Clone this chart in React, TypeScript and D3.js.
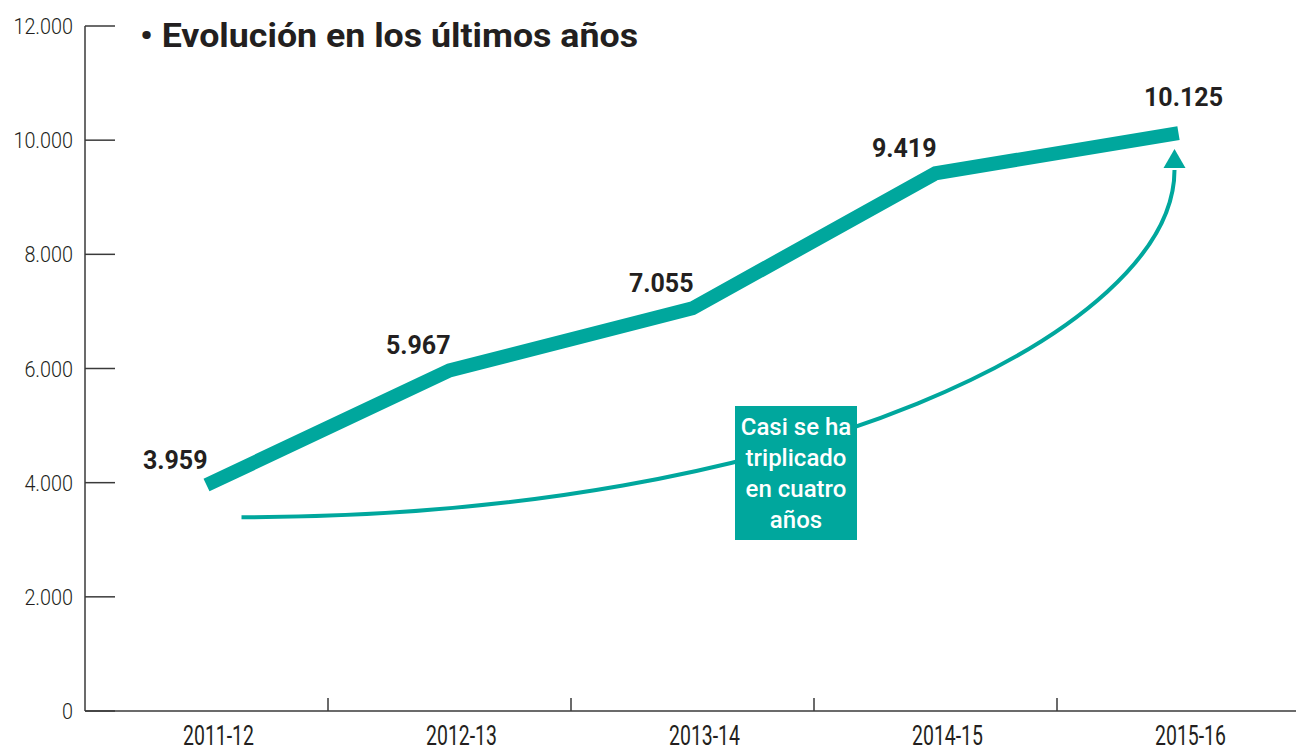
import React from 'react';
import * as d3 from 'd3';

// Evolución en los últimos años
const years = ['2011-12', '2012-13', '2013-14', '2014-15', '2015-16'];
const values = [3959, 5967, 7055, 9419, 10125];
const yTicks = [0, 2000, 4000, 6000, 8000, 10000, 12000];
const valueLabels = ['3.959', '5.967', '7.055', '9.419', '10.125'];
const noteLines = ['Casi se ha', 'triplicado', 'en cuatro', 'años'];
const title = '• Evolución en los últimos años';

const W = 1296;
const H = 752;
const TEAL = '#00a79d';
const INK = '#231f20';
const AXIS = '#3a3a3a';

const es = d3.formatLocale({ decimal: ',', thousands: '.', grouping: [3], currency: ['', '€'] });
const fmt = es.format(',');

export default function App() {
  const x = d3.scaleBand<string>().domain(years).range([85, 1300]).padding(0);
  const y = d3.scaleLinear().domain([0, 12000]).range([711, 26]);
  const cx = (d: string) => (x(d) as number) + x.bandwidth() / 2;

  const line = d3.line<number>()
    .x((d, i) => cx(years[i]))
    .y(d => y(d));

  // curved arrow, from below the first point to under the last one
  const sx = cx(years[0]) + 35;
  const sy = y(3395);
  const ex = cx(years[4]) - 4;
  const ey = y(9513);
  const tipY = y(9845);
  const arrow = d3.path();
  arrow.moveTo(sx, sy);
  arrow.bezierCurveTo(800, sy, ex, 330, ex, ey + 2);

  return (
    <svg width={W} height={H} style={{ position: 'absolute', left: 0, top: 0, background: '#fff' }}
      fontFamily="Roboto, 'Noto Sans', sans-serif">
      {/* y axis */}
      <line x1={85} x2={85} y1={y(12000)} y2={y(0)} stroke={AXIS} strokeWidth={1.5} />
      {yTicks.map(t => (
        <g key={t}>
          <line x1={85} x2={115} y1={y(t)} y2={y(t)} stroke={AXIS} strokeWidth={1.5} />
          <text transform={`translate(73,${y(t) + 8}) scale(0.9,1)`} textAnchor="end"
            fontSize={22} fontWeight={300} fill={INK}>{fmt(t)}</text>
        </g>
      ))}

      {/* x axis */}
      <line x1={85} x2={W} y1={y(0)} y2={y(0)} stroke={AXIS} strokeWidth={1.5} />
      {years.slice(1).map(d => (
        <line key={d} x1={x(d)} x2={x(d)} y1={y(0) - 13} y2={y(0)} stroke={AXIS} strokeWidth={1.5} />
      ))}
      {years.map(d => (
        <text key={d} transform={`translate(${cx(d) + 12},745) scale(0.72,1)`} textAnchor="middle"
          fontSize={27} fontWeight={400} fill={INK}>{d}</text>
      ))}

      {/* title */}
      <text x={140} y={47} fontSize={33} fontWeight={700} fill={INK}
        textLength={498} lengthAdjust="spacingAndGlyphs">{title}</text>

      {/* arrow */}
      <path d={arrow.toString()} fill="none" stroke={TEAL} strokeWidth={4} />
      <path d={`M${ex},${tipY}L${ex - 11},${ey}L${ex + 11},${ey}Z`} fill={TEAL} />

      {/* main line */}
      <path d={line(values) || ''} fill="none" stroke={TEAL} strokeWidth={14} strokeLinejoin="miter" />

      {values.map((v, i) => {
        const last = i === values.length - 1;
        return (
          <text key={i} x={last ? cx(years[i]) + 5 : cx(years[i]) + 1} y={y(v) - (last ? 27 : 16)}
            textAnchor={last ? 'middle' : 'end'} fontSize={25} fontWeight={700} fill={INK}>
            {valueLabels[i]}
          </text>
        );
      })}

      {/* note box */}
      <rect x={735} y={406} width={122} height={134} fill={TEAL} />
      {noteLines.map((s, i) => (
        <text key={s} x={796} y={435 + i * 31} textAnchor="middle" fontSize={24} fontWeight={500} fill="#fff">{s}</text>
      ))}
    </svg>
  );
}
